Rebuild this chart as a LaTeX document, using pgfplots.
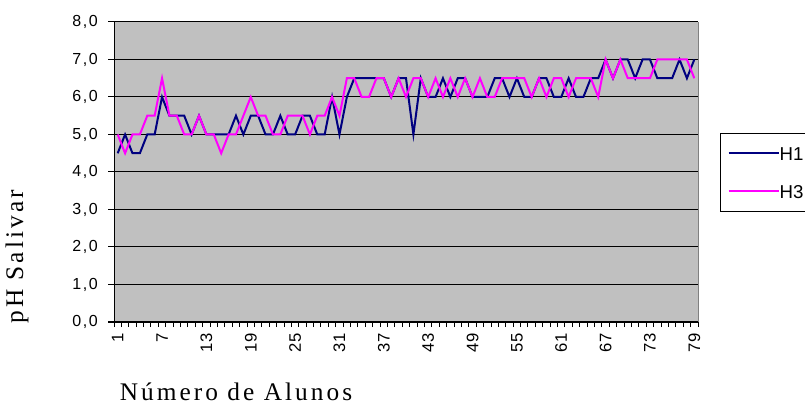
\documentclass[border=0pt]{standalone}
\usepackage{pgfplots}
\pgfplotsset{compat=1.18}
\usepackage{pgfplotstable}
\usepackage{fontspec}
\setmainfont{Liberation Sans}
\newfontfamily\labelfont[LetterSpace=12]{Liberation Serif}
\newfontfamily\yfont[LetterSpace=10]{Liberation Sans}

\definecolor{plotgray}{HTML}{C0C0C0}
\definecolor{bordergray}{HTML}{808080}
\definecolor{hnavy}{HTML}{000080}
\definecolor{hmag}{HTML}{FF00FF}

% salivary pH per student, two measurements (H1, H3)
\pgfplotstableread{
n h1 h3
1 4.5 5.0
2 5.0 4.5
3 4.5 5.0
4 4.5 5.0
5 5.0 5.5
6 5.0 5.5
7 6.0 6.5
8 5.5 5.5
9 5.5 5.5
10 5.5 5.0
11 5.0 5.0
12 5.5 5.5
13 5.0 5.0
14 5.0 5.0
15 5.0 4.5
16 5.0 5.0
17 5.5 5.0
18 5.0 5.5
19 5.5 6.0
20 5.5 5.5
21 5.0 5.5
22 5.0 5.0
23 5.5 5.0
24 5.0 5.5
25 5.0 5.5
26 5.5 5.5
27 5.5 5.0
28 5.0 5.5
29 5.0 5.5
30 6.0 6.0
31 5.0 5.5
32 6.0 6.5
33 6.5 6.5
34 6.5 6.0
35 6.5 6.0
36 6.5 6.5
37 6.5 6.5
38 6.0 6.0
39 6.5 6.5
40 6.5 6.0
41 5.0 6.5
42 6.5 6.5
43 6.0 6.0
44 6.0 6.5
45 6.5 6.0
46 6.0 6.5
47 6.5 6.0
48 6.5 6.5
49 6.0 6.0
50 6.0 6.5
51 6.0 6.0
52 6.5 6.0
53 6.5 6.5
54 6.0 6.5
55 6.5 6.5
56 6.0 6.5
57 6.0 6.0
58 6.5 6.5
59 6.5 6.0
60 6.0 6.5
61 6.0 6.5
62 6.5 6.0
63 6.0 6.5
64 6.0 6.5
65 6.5 6.5
66 6.5 6.0
67 7.0 7.0
68 6.5 6.5
69 7.0 7.0
70 7.0 6.5
71 6.5 6.5
72 7.0 6.5
73 7.0 6.5
74 6.5 7.0
75 6.5 7.0
76 6.5 7.0
77 7.0 7.0
78 6.5 7.0
79 7.0 6.5
}\phdata

\begin{document}
\begin{tikzpicture}
\useasboundingbox (0,0) rectangle (603.75pt,304.5pt);
\clip (0,0) rectangle (603.75pt,304.5pt);
\begin{axis}[
  at={(85.5pt,63pt)}, anchor=south west,
  scale only axis, width=438pt, height=225pt,
  xmin=0.5, xmax=79.5, ymin=0, ymax=8,
  clip=false,
  /pgf/number format/assume math mode=true,
  axis background/.style={fill=plotgray},
  axis line style={draw=none},
  ytick={0,1,...,8},
  yticklabels={{0,0},{1,0},{2,0},{3,0},{4,0},{5,0},{6,0},{7,0},{8,0}},
  yticklabel style={font=\yfont\fontsize{12}{14}\selectfont, inner sep=0pt},
  yticklabel shift=7.5pt,
  ymajorgrids,
  grid style={black, line width=0.75pt},
  xtick={1,7,...,79},
  minor xtick={0.5,1.5,...,79.5},
  major x tick style={draw=none},
  xtick pos=bottom, ytick pos=left,
  tick align=outside,
  tick style={black, line width=0.75pt},
  major tick length=4.5pt,
  minor tick length=3.75pt,
  xticklabel style={rotate=90, anchor=east, inner sep=0pt, font=\fontsize{12.5}{14}\selectfont},
  xticklabel shift=4pt,
  xlabel={Número de Alunos},
  xlabel style={font=\labelfont\fontsize{19}{22}\selectfont,
    at={(axis description cs:0.209,-0.232)}, anchor=center},
  ylabel={pH Salivar},
  ylabel style={font=\labelfont\fontsize{19}{22}\selectfont,
    at={(axis description cs:-0.166,0.217)}, anchor=center},
  legend style={at={(1.0377,0.63)}, anchor=north west, draw=black, line width=0.75pt,
    fill=white, font=\fontsize{14}{16}\selectfont,
    inner xsep=5.25pt, inner ysep=10pt, row sep=18.5pt,
    nodes={inner sep=0pt, text height=10pt, text depth=0pt},
    /tikz/every even column/.append style={column sep=1.5pt}},
  legend cell align=left,
  legend image code/.code={\draw[#1] (0pt,0pt) -- (37.5pt,0pt);},
]
\addplot[hnavy, line width=1.5pt] table[x=n, y=h1] {\phdata};
\addlegendentry{H1}
\addplot[hmag, line width=1.5pt] table[x=n, y=h3] {\phdata};
\addlegendentry{H3}
% frame of the plot area
\draw[black, line width=0.75pt] (rel axis cs:0,0) -- (rel axis cs:0,1);
\draw[black, line width=0.75pt] (rel axis cs:0,0) -- (rel axis cs:1,0);
\draw[bordergray, line width=0.75pt] (rel axis cs:1,0) -- (rel axis cs:1,1);
\end{axis}
\end{tikzpicture}
\end{document}
